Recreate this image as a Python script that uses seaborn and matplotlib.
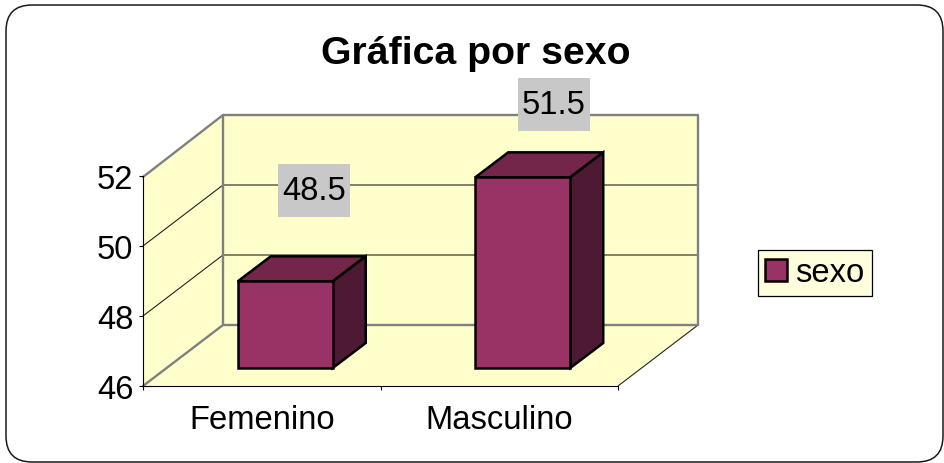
import matplotlib
matplotlib.use('Agg')
import matplotlib.pyplot as plt
import pandas as pd
import seaborn as sns
from matplotlib.patches import FancyBboxPatch, Patch, Polygon, Rectangle

categories = ['Femenino', 'Masculino']
values = [48.5, 51.5]
y_ticks = [46, 48, 50, 52]
series_name = 'sexo'
title = 'Gráfica por sexo'

sns.set_theme(style='white')
plt.rcParams['font.family'] = ['Liberation Sans', 'DejaVu Sans']

W, H = 944, 464
FRONT = '#993366'
TOP = '#732649'
SIDE = '#4D1933'
WALL = '#FFFFCC'
GREY = '#808080'
FS = 23.6


def axes_px(fig, x0, y0, x1, y1):
    # pixel box, y measured from the top of the picture
    return fig.add_axes([x0 / W, (H - y1) / H, (x1 - x0) / W, (y1 - y0) / H])


df = pd.DataFrame({'categoria': categories, 'valor': values})
fig = plt.figure(figsize=(W / 100, H / 100), dpi=100, facecolor='white')

# --- background layer in pixels: frame and the 3D box ---
bg = fig.add_axes([0, 0, 1, 1], zorder=0)
bg.set_xlim(0, W)
bg.set_ylim(H, 0)
bg.axis('off')
bg.add_patch(FancyBboxPatch((6, 6), 937, 457, boxstyle='round,pad=0,rounding_size=26',
                            fc='white', ec='#1a1a1a', lw=1.1, clip_on=False))
bg.add_patch(Polygon([(143, 178), (223, 116), (223, 326), (143, 387)], fc=WALL, ec='none'))
bg.add_patch(Rectangle((223, 116), 475, 210, fc=WALL, ec='none'))
bg.add_patch(Polygon([(143, 387), (618, 387), (698, 326), (223, 326)], fc=WALL, ec='none'))

for t in y_ticks[1:-1]:
    back_y = 326 - (t - 46) * 35
    front_y = 387 - (t - 46) * 35
    bg.plot([143, 223, 698], [front_y, back_y, back_y], color='#222222', lw=0.8)
bg.plot([618, 698], [387, 326], color='#222222', lw=0.8)
bg.plot([143, 223, 223, 143], [178, 116, 326, 387], color=GREY, lw=1.7)
bg.plot([223, 698, 698, 223], [116, 116, 326, 326], color=GREY, lw=1.7)

# --- front plane: axis lines, ticks and labels ---
ax = axes_px(fig, 143, 177, 618, 387)
ax.set_zorder(2)
ax.patch.set_visible(False)
ax.set_xlim(-0.5, 1.5)
ax.set_ylim(y_ticks[0], y_ticks[-1])
ax.set_yticks(y_ticks)
ax.set_xticks(range(len(categories)))
ax.set_xticklabels(categories)
ax.set_xticks([-0.5, 0.5, 1.5], minor=True)
ax.tick_params(axis='y', length=3, width=0.8, color='black', labelsize=FS, labelcolor='black', pad=4, left=True)
ax.tick_params(axis='x', which='major', length=0, labelsize=FS, labelcolor='black', pad=13)
ax.tick_params(axis='x', which='minor', length=3, width=0.8, color='black', bottom=True)
sns.despine(ax=ax)
ax.spines['left'].set_color('black')
ax.spines['bottom'].set_color('black')
ax.spines['left'].set_linewidth(0.8)
ax.spines['bottom'].set_linewidth(0.8)

# --- bars sit halfway into the box ---
ax_bar = axes_px(fig, 166.5, 161, 641.5, 369)
ax_bar.set_zorder(3)
sns.barplot(data=df, x='categoria', y='valor', ax=ax_bar, width=0.4, color=FRONT,
            saturation=1, edgecolor='black', linewidth=1.8)
ax_bar.set_xlim(-0.5, 1.5)
ax_bar.set_ylim(y_ticks[0], y_ticks[-1])
ax_bar.axis('off')

DX, DY = 33, 25
label_offsets = [(28.5, -90.5), (31, -73)]
for bar, val, (off_x, off_y) in zip(ax_bar.patches, values, label_offsets):
    bar.set_y(y_ticks[0])
    bar.set_height(val - y_ticks[0])
    bar.set_clip_on(False)
    bar.set_joinstyle('miter')
    x0, y_top = ax_bar.transData.transform((bar.get_x(), val))
    x1, y_bot = ax_bar.transData.transform((bar.get_x() + bar.get_width(), y_ticks[0]))
    y_top, y_bot = H - y_top, H - y_bot
    bg.add_patch(Polygon([(x0, y_top), (x0 + DX, y_top - DY), (x1 + DX, y_top - DY), (x1, y_top)],
                         fc=TOP, ec='black', lw=1.8, joinstyle='miter', zorder=5))
    bg.add_patch(Polygon([(x1, y_top), (x1 + DX, y_top - DY), (x1 + DX, y_bot - DY), (x1, y_bot)],
                         fc=SIDE, ec='black', lw=1.8, joinstyle='miter', zorder=5))
    cx, cy = (x0 + x1) / 2 + off_x, y_top + off_y
    bg.add_patch(Rectangle((cx - 36, cy - 26.5), 72, 53, fc='#C8C8C8', ec='none', zorder=6))
    bg.text(cx, cy, f'{val:g}', ha='center', va='center', fontsize=FS, color='black', zorder=7)

bg.text(476, 54, title, ha='center', va='center', fontsize=28.3, fontweight='bold', color='black')

leg = ax_bar.legend(handles=[Patch(fc=FRONT, ec='black', lw=1.8, label=series_name)],
                    loc='center', bbox_to_anchor=(815 / W, (H - 274) / H),
                    bbox_transform=fig.transFigure, fontsize=FS, frameon=True, labelcolor='black',
                    fancybox=False, framealpha=1, facecolor='#FFFFDD', edgecolor='black',
                    handlelength=0.67, handleheight=0.67, handletextpad=0.25, borderpad=0.23,
                    borderaxespad=0)
leg.get_frame().set_linewidth(0.9)

fig.savefig('out.png', dpi=100)
